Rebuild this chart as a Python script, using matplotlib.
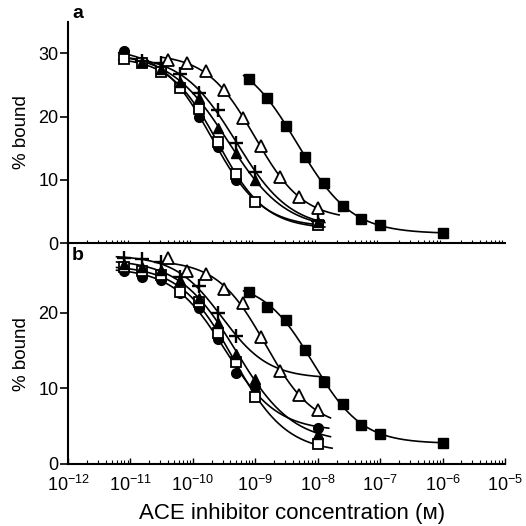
import numpy as np
import matplotlib
matplotlib.use("Agg")
import matplotlib.pyplot as plt
from matplotlib.ticker import LogLocator, NullFormatter

plt.rcParams['font.family'] = ['Liberation Sans', 'DejaVu Sans']
plt.rcParams['mathtext.fontset'] = 'custom'
plt.rcParams['mathtext.rm'] = 'Liberation Sans'
plt.rcParams['mathtext.it'] = 'Liberation Sans'

# ---------- data (concentration in M, % bound) ----------
# panel a
a_circle_x = [7.8e-12, 1.56e-11, 3.1e-11, 6.25e-11, 1.25e-10, 2.5e-10, 5e-10, 1e-8]
a_circle_y = [30.4, 28.6, 27.3, 24.9, 20.0, 15.2, 10.0, 3.0]
a_osq_x = [7.8e-12, 1.56e-11, 3.1e-11, 6.25e-11, 1.25e-10, 2.5e-10, 5e-10, 1e-9, 1e-8]
a_osq_y = [29.1, 28.4, 27.0, 24.5, 21.2, 16.0, 11.0, 6.5, 2.9]
a_tri_x = [1.56e-11, 3.1e-11, 6.25e-11, 1.25e-10, 2.5e-10, 5e-10, 1e-9, 1e-8]
a_tri_y = [28.7, 27.6, 25.5, 23.0, 18.2, 14.2, 10.0, 3.3]
a_plus_x = [1.56e-11, 3.1e-11, 6.25e-11, 1.25e-10, 2.5e-10, 5e-10, 1e-9, 1e-8]
a_plus_y = [28.8, 28.4, 26.8, 23.7, 21.0, 15.8, 11.3, 3.6]
a_otri_x = [4e-11, 8e-11, 1.6e-10, 3.1e-10, 6.25e-10, 1.25e-9, 2.5e-9, 5e-9, 1e-8]
a_otri_y = [29.0, 28.5, 27.2, 24.2, 19.8, 15.3, 10.5, 7.3, 5.5]
a_fsq_x = [7.8e-10, 1.56e-9, 3.1e-9, 6.25e-9, 1.25e-8, 2.5e-8, 5e-8, 1e-7, 1e-6]
a_fsq_y = [25.9, 22.9, 18.6, 13.7, 9.5, 5.9, 3.8, 2.9, 1.7]

# panel b
b_circle_x = [7.8e-12, 1.56e-11, 3.1e-11, 6.25e-11, 1.25e-10, 2.5e-10, 5e-10, 1e-9, 1e-8]
b_circle_y = [25.6, 24.8, 24.4, 22.6, 20.6, 16.5, 12.0, 10.2, 4.8]
b_osq_x = [7.8e-12, 1.56e-11, 3.1e-11, 6.25e-11, 1.25e-10, 2.5e-10, 5e-10, 1e-9, 1e-8]
b_osq_y = [26.0, 25.5, 25.0, 22.8, 21.4, 17.3, 13.5, 8.8, 2.6]
b_tri_x = [7.8e-12, 1.56e-11, 3.1e-11, 6.25e-11, 1.25e-10, 2.5e-10, 5e-10, 1e-9, 1e-8]
b_tri_y = [26.5, 26.0, 25.7, 24.4, 22.0, 18.6, 14.5, 11.3, 4.0]
b_plus_x = [7.8e-12, 1.56e-11, 3.1e-11, 6.25e-11, 1.25e-10, 2.5e-10, 5e-10]
b_plus_y = [27.3, 27.1, 26.7, 24.8, 23.5, 20.0, 17.0]
b_otri_x = [4e-11, 8e-11, 1.6e-10, 3.1e-10, 6.25e-10, 1.25e-9, 2.5e-9, 5e-9, 1e-8]
b_otri_y = [27.3, 25.6, 25.1, 23.2, 21.3, 16.8, 12.3, 9.1, 7.1]
b_fsq_x = [7.8e-10, 1.56e-9, 3.1e-9, 6.25e-9, 1.25e-8, 2.5e-8, 5e-8, 1e-7, 1e-6]
b_fsq_y = [22.8, 20.8, 19.1, 15.1, 10.8, 8.0, 5.2, 4.0, 2.8]

x_tick_labels = [r'$10^{-12}$', r'$10^{-11}$', r'$10^{-10}$', r'$10^{-9}$',
                 r'$10^{-8}$', r'$10^{-7}$', r'$10^{-6}$', r'$10^{-5}$']


def fit_logistic(x, y):
    lx = np.log10(np.asarray(x, float))
    y = np.asarray(y, float)
    best = None
    for c in np.arange(lx.min() - 1, lx.max() + 1, 0.01):
        for h in np.arange(0.4, 2.0, 0.02):
            f = 1.0 / (1.0 + 10 ** (h * (lx - c)))
            A = np.column_stack([np.ones_like(f), f])
            coef, *_ = np.linalg.lstsq(A, y, rcond=None)
            sse = np.sum((A @ coef - y) ** 2)
            if best is None or sse < best[0]:
                best = (sse, c, h, coef)
    _, c, h, coef = best
    return lambda xx: coef[0] + coef[1] / (1.0 + 10 ** (h * (np.log10(xx) - c)))


def draw(ax, x, y, style, xr):
    f = fit_logistic(x, y)
    xx = np.logspace(np.log10(xr[0]), np.log10(xr[1]), 200)
    ax.plot(xx, f(xx), color='black', lw=1.2, zorder=2)
    ax.plot(x, y, linestyle='none', zorder=3, **style)


circ = dict(marker='o', ms=7, mfc='black', mec='black')
osq = dict(marker='s', ms=7, mfc='white', mec='black', mew=1.3)
tri = dict(marker='^', ms=7.5, mfc='black', mec='black')
plus = dict(marker='+', ms=9.5, mec='black', mew=1.7)
otri = dict(marker='^', ms=8, mfc='white', mec='black', mew=1.3)
fsq = dict(marker='s', ms=7, mfc='black', mec='black')

fig = plt.figure(figsize=(5.26, 5.26), dpi=100)
L, W = 68 / 526, 437 / 526
ax_a = fig.add_axes([L, 1 - 243.3 / 526, W, 221.6 / 526])
ax_b = fig.add_axes([L, 1 - 464 / 526, W, 220.7 / 526])

draw(ax_a, a_circle_x, a_circle_y, circ, (6.5e-12, 1.2e-8))
draw(ax_a, a_osq_x, a_osq_y, osq, (6.5e-12, 1.3e-8))
draw(ax_a, a_tri_x, a_tri_y, tri, (7e-12, 1.2e-8))
draw(ax_a, a_plus_x, a_plus_y, plus, (1.0e-11, 1.3e-8))
draw(ax_a, a_otri_x, a_otri_y, otri, (3.2e-11, 2.2e-8))
draw(ax_a, a_fsq_x, a_fsq_y, fsq, (6.5e-10, 1e-6))

draw(ax_b, b_circle_x, b_circle_y, circ, (6.0e-12, 1.5e-8))
draw(ax_b, b_osq_x, b_osq_y, osq, (6.0e-12, 1.7e-8))
draw(ax_b, b_tri_x, b_tri_y, tri, (6.0e-12, 1.6e-8))
draw(ax_b, b_plus_x, b_plus_y, plus, (6.0e-12, 1.5e-8))
draw(ax_b, b_otri_x, b_otri_y, otri, (3.2e-11, 1.6e-8))
draw(ax_b, b_fsq_x, b_fsq_y, fsq, (6.5e-10, 1e-6))

for ax, ymax, yt in [(ax_a, 35.0, [0, 10, 20, 30]), (ax_b, 29.2, [0, 10, 20])]:
    ax.set_xscale('log')
    ax.set_xlim(1e-12, 1e-5)
    ax.set_ylim(0, ymax)
    ax.set_yticks(yt)
    ax.set_yticklabels([str(v) for v in yt])
    for s in ['top', 'right']:
        ax.spines[s].set_visible(False)
    ax.spines['left'].set_linewidth(1.5)
    ax.spines['bottom'].set_linewidth(1.5)
    ax.tick_params(axis='y', direction='out', length=6, width=1.2, labelsize=13, pad=1)
    ax.set_ylabel('% bound', fontsize=13.5)
    ax.yaxis.set_label_coords(-0.088, 0.5)
    ax.patch.set_visible(False)

ax_a.set_xticks([])
ax_a.xaxis.set_minor_locator(LogLocator(base=10, subs=np.arange(2, 10)))
ax_a.xaxis.set_minor_formatter(NullFormatter())
ax_a.tick_params(axis='x', which='minor', direction='in', length=2, width=0.8)

ax_b.set_xticks([10.0 ** e for e in range(-12, -4)])
ax_b.set_xticklabels(x_tick_labels)
ax_b.xaxis.set_minor_locator(LogLocator(base=10, subs=np.arange(2, 10)))
ax_b.xaxis.set_minor_formatter(NullFormatter())
ax_b.tick_params(axis='x', which='major', direction='in', length=4, width=1.0, labelsize=13, pad=7.5)
ax_b.tick_params(axis='x', which='minor', direction='in', length=3, width=0.8)
ax_b.set_xlabel('ACE inhibitor concentration (\u1d0d)', fontsize=16)
ax_b.xaxis.set_label_coords(0.512, -0.175)

fig.text(78 / 526, 1 - 14 / 526, 'a', fontsize=14, fontweight='bold', va='center', ha='center')
fig.text(78 / 526, 1 - 256 / 526, 'b', fontsize=14, fontweight='bold', va='center', ha='center')

fig.savefig('out.png', dpi=100)
